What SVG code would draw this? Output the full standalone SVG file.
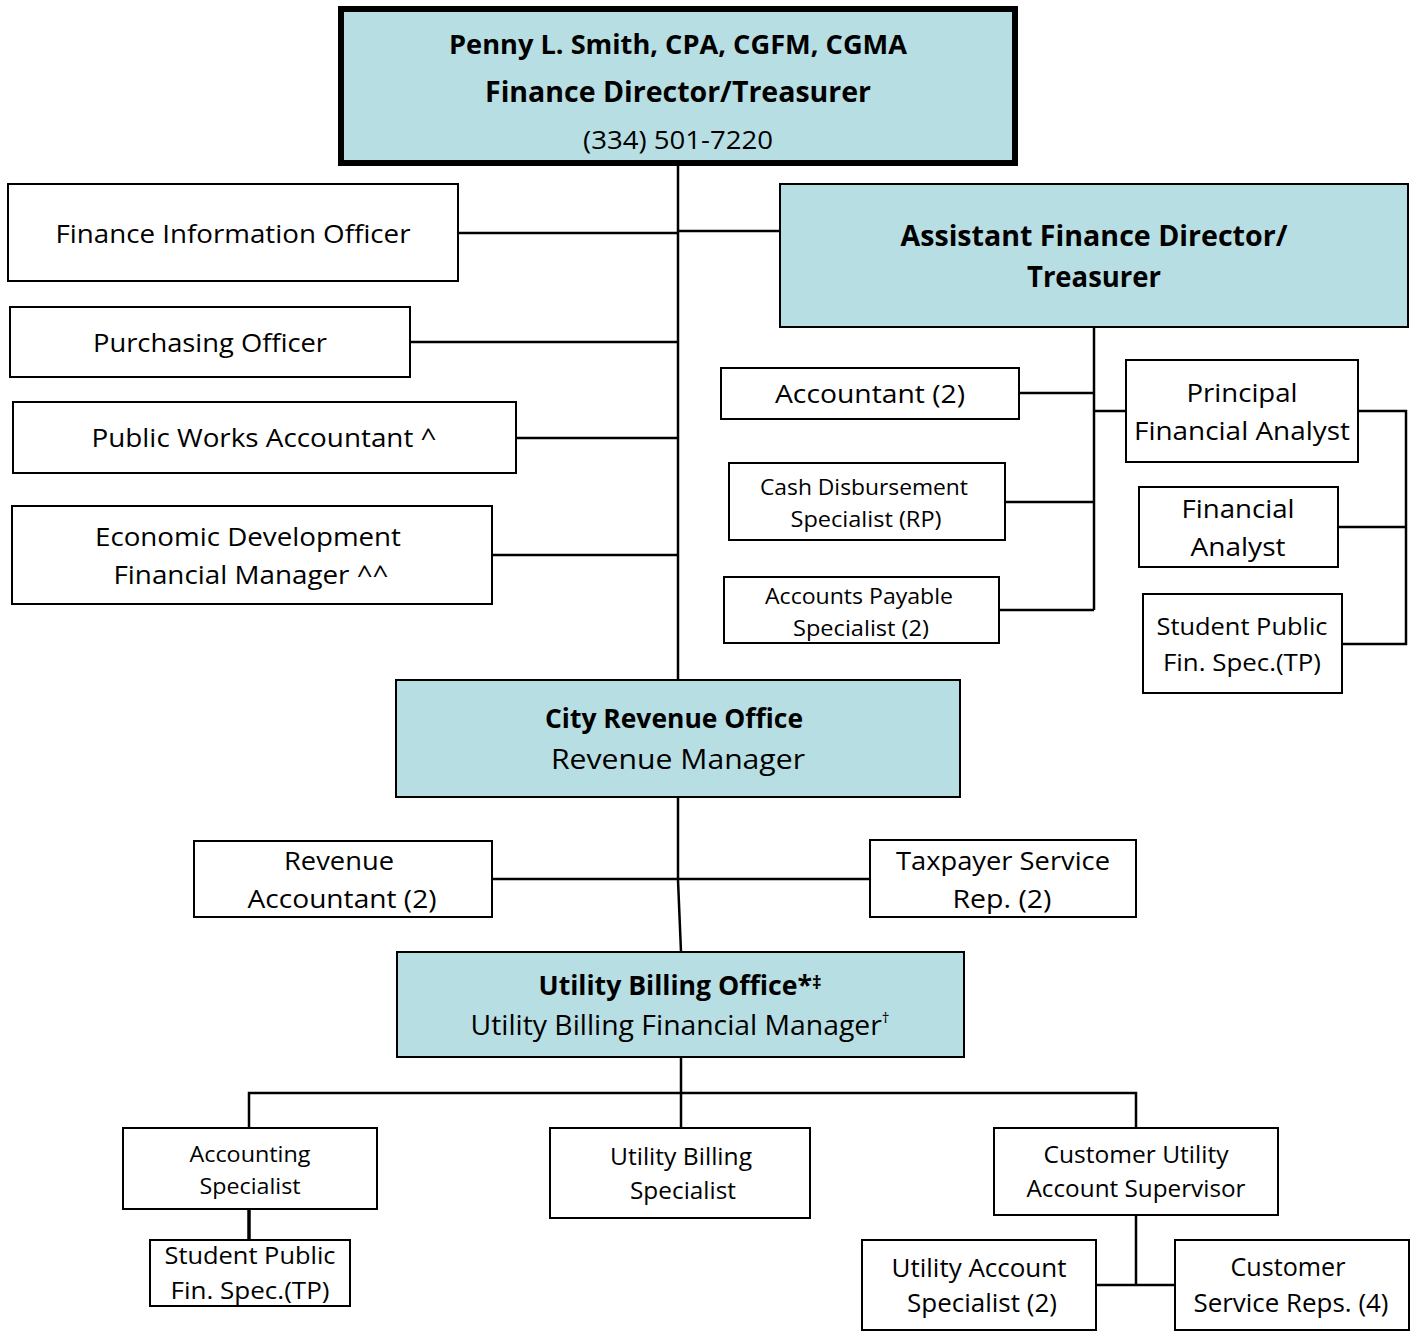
<svg xmlns="http://www.w3.org/2000/svg" width="1414" height="1331" viewBox="0 0 1414 1331">
<style>
.box{fill:#fff;stroke:#000;stroke-width:2}
.teal{fill:#b7dee2;stroke:#000;stroke-width:2}
.top{fill:#b7dee2;stroke:#000;stroke-width:6}
.c{fill:none;stroke:#000;stroke-width:2.5}
text{font-family:"Open Sans","Noto Sans","Liberation Sans",sans-serif;fill:#000;text-anchor:middle}
.b{font-weight:bold}
.s26{font-size:26px}
.s24{font-size:24px}
.s22{font-size:22px}
.s28{font-size:28px}
</style>
<rect width="1414" height="1331" fill="#fff"/>
<g id="connectors">
<path class="c" d="M678 166V680"/>
<path class="c" d="M458 233H678M678 231H780"/>
<path class="c" d="M410 342H678"/>
<path class="c" d="M516 438H678"/>
<path class="c" d="M492 555H678"/>
<path class="c" d="M1094 327V610"/>
<path class="c" d="M1019 393H1094M1005 502H1094M999 610H1094M1094 411H1126"/>
<path class="c" d="M1358 411H1406V644H1342M1338 527H1406"/>
<path class="c" d="M678 797V880L681 952"/>
<path class="c" d="M492 879H870"/>
<path class="c" d="M681 1057V1128"/>
<path class="c" d="M249 1128V1093H1136V1128"/>
<path class="c" d="M249 1209V1240" style="stroke-width:3.5"/>
<path class="c" d="M1136 1215V1285M1096 1285H1175"/>
</g>
<g id="director">
<rect class="top" x="341" y="9" width="674" height="154"/>
<text class="b s26" x="678" y="54" textLength="458" lengthAdjust="spacingAndGlyphs">Penny L. Smith, CPA, CGFM, CGMA</text>
<text class="b s28" x="678" y="102" textLength="386" lengthAdjust="spacingAndGlyphs">Finance Director/Treasurer</text>
<text class="s26" x="678" y="149" textLength="190" lengthAdjust="spacingAndGlyphs">(334) 501-7220</text>
</g>
<g id="finance-info-officer">
<rect class="box" x="8" y="184" width="450" height="97"/>
<text class="s26" x="233" y="243" textLength="355" lengthAdjust="spacingAndGlyphs">Finance Information Officer</text>
</g>
<g id="assistant-director">
<rect class="teal" x="780" y="184" width="628" height="143"/>
<text class="b s28" x="1094" y="246" textLength="387" lengthAdjust="spacingAndGlyphs">Assistant Finance Director/</text>
<text class="b s28" x="1094" y="287" textLength="134" lengthAdjust="spacingAndGlyphs">Treasurer</text>
</g>
<g id="purchasing-officer">
<rect class="box" x="10" y="307" width="400" height="70"/>
<text class="s26" x="210" y="352" textLength="234" lengthAdjust="spacingAndGlyphs">Purchasing Officer</text>
</g>
<g id="public-works-accountant">
<rect class="box" x="13" y="402" width="503" height="71"/>
<text class="s26" x="264" y="447" textLength="345" lengthAdjust="spacingAndGlyphs">Public Works Accountant ^</text>
</g>
<g id="econ-dev-manager">
<rect class="box" x="12" y="506" width="480" height="98"/>
<text class="s26" x="248" y="546" textLength="306" lengthAdjust="spacingAndGlyphs">Economic Development</text>
<text class="s26" x="251" y="584" textLength="275" lengthAdjust="spacingAndGlyphs">Financial Manager ^^</text>
</g>
<g id="accountant">
<rect class="box" x="721" y="368" width="298" height="51"/>
<text class="s26" x="870" y="403" textLength="190" lengthAdjust="spacingAndGlyphs">Accountant (2)</text>
</g>
<g id="cash-disbursement">
<rect class="box" x="729" y="463" width="276" height="77"/>
<text class="s22" x="864" y="495" textLength="208" lengthAdjust="spacingAndGlyphs">Cash Disbursement</text>
<text class="s22" x="866" y="527" textLength="151" lengthAdjust="spacingAndGlyphs">Specialist (RP)</text>
</g>
<g id="accounts-payable">
<rect class="box" x="724" y="577" width="275" height="66"/>
<text class="s22" x="859" y="604" textLength="188" lengthAdjust="spacingAndGlyphs">Accounts Payable</text>
<text class="s22" x="861" y="636" textLength="136" lengthAdjust="spacingAndGlyphs">Specialist (2)</text>
</g>
<g id="principal-analyst">
<rect class="box" x="1126" y="360" width="232" height="102"/>
<text class="s26" x="1242" y="402" textLength="111" lengthAdjust="spacingAndGlyphs">Principal</text>
<text class="s26" x="1242" y="440" textLength="216" lengthAdjust="spacingAndGlyphs">Financial Analyst</text>
</g>
<g id="financial-analyst">
<rect class="box" x="1139" y="487" width="199" height="80"/>
<text class="s26" x="1238" y="518" textLength="113" lengthAdjust="spacingAndGlyphs">Financial</text>
<text class="s26" x="1238" y="556" textLength="95" lengthAdjust="spacingAndGlyphs">Analyst</text>
</g>
<g id="student-public-1">
<rect class="box" x="1143" y="594" width="199" height="99"/>
<text class="s24" x="1242" y="635" textLength="171" lengthAdjust="spacingAndGlyphs">Student Public</text>
<text class="s24" x="1242" y="671" textLength="158" lengthAdjust="spacingAndGlyphs">Fin. Spec.(TP)</text>
</g>
<g id="city-revenue">
<rect class="teal" x="396" y="680" width="564" height="117"/>
<text class="b s26" x="674" y="728" textLength="258" lengthAdjust="spacingAndGlyphs">City Revenue Office</text>
<text class="s28" x="678" y="769" textLength="254" lengthAdjust="spacingAndGlyphs">Revenue Manager</text>
</g>
<g id="revenue-accountant">
<rect class="box" x="194" y="841" width="298" height="76"/>
<text class="s26" x="339" y="870" textLength="110" lengthAdjust="spacingAndGlyphs">Revenue</text>
<text class="s26" x="342" y="908" textLength="189" lengthAdjust="spacingAndGlyphs">Accountant (2)</text>
</g>
<g id="taxpayer-service">
<rect class="box" x="870" y="840" width="266" height="77"/>
<text class="s26" x="1003" y="870" textLength="214" lengthAdjust="spacingAndGlyphs">Taxpayer Service</text>
<text class="s26" x="1002" y="908" textLength="99" lengthAdjust="spacingAndGlyphs">Rep. (2)</text>
</g>
<g id="utility-billing-office">
<rect class="teal" x="397" y="952" width="567" height="105"/>
<text class="b s26" x="680" y="995" textLength="283" lengthAdjust="spacingAndGlyphs">Utility Billing Office*<tspan font-size="18" dy="-6">‡</tspan></text>
<text class="s28" x="680" y="1035" textLength="419" lengthAdjust="spacingAndGlyphs">Utility Billing Financial Manager<tspan font-size="15" dy="-12">†</tspan></text>
</g>
<g id="accounting-specialist">
<rect class="box" x="123" y="1128" width="254" height="81"/>
<text class="s22" x="250" y="1162" textLength="121" lengthAdjust="spacingAndGlyphs">Accounting</text>
<text class="s22" x="250" y="1194" textLength="101" lengthAdjust="spacingAndGlyphs">Specialist</text>
</g>
<g id="student-public-2">
<rect class="box" x="150" y="1240" width="200" height="66"/>
<text class="s24" x="250" y="1264" textLength="171" lengthAdjust="spacingAndGlyphs">Student Public</text>
<text class="s24" x="250" y="1299" textLength="159" lengthAdjust="spacingAndGlyphs">Fin. Spec.(TP)</text>
</g>
<g id="utility-billing-specialist">
<rect class="box" x="550" y="1128" width="260" height="90"/>
<text class="s24" x="681" y="1165" textLength="142" lengthAdjust="spacingAndGlyphs">Utility Billing</text>
<text class="s24" x="683" y="1199" textLength="106" lengthAdjust="spacingAndGlyphs">Specialist</text>
</g>
<g id="customer-utility-supervisor">
<rect class="box" x="994" y="1128" width="284" height="87"/>
<text class="s24" x="1136" y="1163" textLength="185" lengthAdjust="spacingAndGlyphs">Customer Utility</text>
<text class="s24" x="1136" y="1197" textLength="219" lengthAdjust="spacingAndGlyphs">Account Supervisor</text>
</g>
<g id="utility-account-specialist">
<rect class="box" x="862" y="1240" width="234" height="90"/>
<text class="s26" x="979" y="1277" textLength="175" lengthAdjust="spacingAndGlyphs">Utility Account</text>
<text class="s26" x="982" y="1312" textLength="150" lengthAdjust="spacingAndGlyphs">Specialist (2)</text>
</g>
<g id="customer-service-reps">
<rect class="box" x="1175" y="1240" width="234" height="90"/>
<text class="s26" x="1288" y="1276" textLength="115" lengthAdjust="spacingAndGlyphs">Customer</text>
<text class="s26" x="1291" y="1312" textLength="195" lengthAdjust="spacingAndGlyphs">Service Reps. (4)</text>
</g>
</svg>
